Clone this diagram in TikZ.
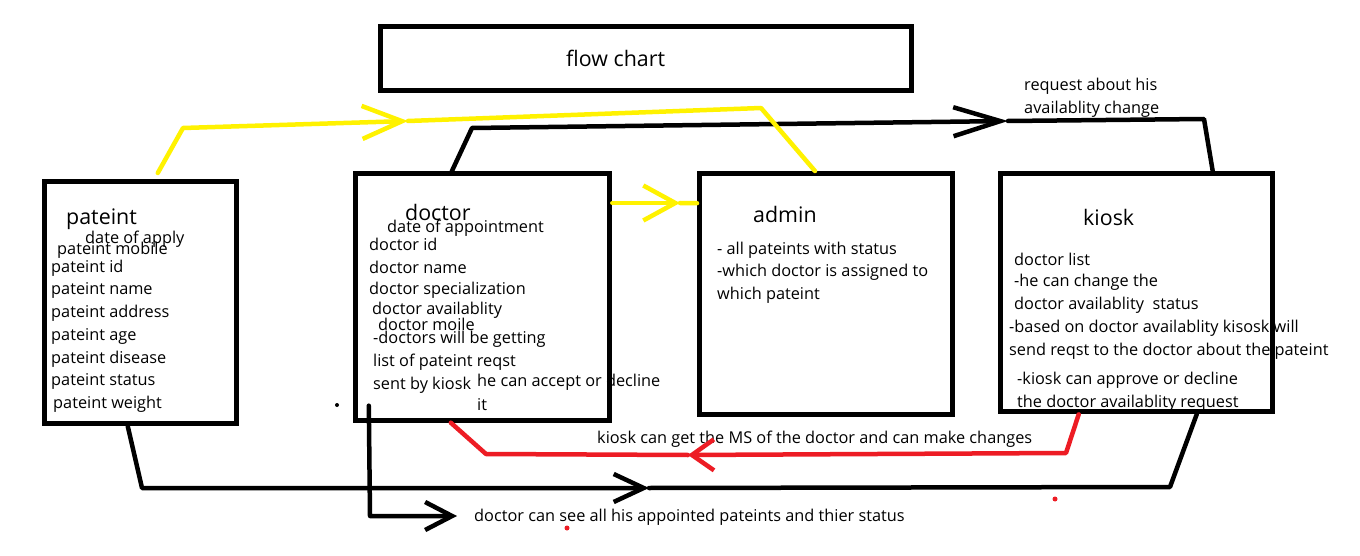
\documentclass[tikz,border=0pt]{standalone}
\usepackage{fontspec}
\setmainfont{Open Sans}
\usetikzlibrary{arrows.meta}
\definecolor{paintyellow}{RGB}{255,242,0}
\definecolor{paintred}{RGB}{237,28,36}

\begin{document}
\begin{tikzpicture}[x=1pt, y=-1pt,
  chartbox/.style={draw, line width=5pt, inner sep=0pt},
  lbl/.style={anchor=west, inner sep=0pt, font=\fontsize{16.3}{19}\selectfont},
  head/.style={anchor=west, inner sep=0pt, font=\fontsize{21.4}{25}\selectfont},
  flow/.style={line width=4.5pt, line cap=round, line join=round},
  yflow/.style={flow, paintyellow},
  bflow/.style={flow, black},
  rflow/.style={flow, paintred},
  vtip/.style 2 args={-{Straight Barb[length=#1pt, width=#2pt, line width=4.5pt]}}]
  \fill[white] (0,0) rectangle (1360,556);
  \useasboundingbox (0,0) rectangle (1360,556);

  % boxes
  \node[chartbox, minimum width=531pt, minimum height=64pt] (titlebox) at (646,58.8) {};
  \node[chartbox, minimum width=191.7pt, minimum height=242.5pt] (pateint) at (140.8,302.7) {};
  \node[chartbox, minimum width=254pt, minimum height=246.4pt] (doctor) at (482.8,297) {};
  \node[chartbox, minimum width=253pt, minimum height=241.3pt] (admin) at (826,294.2) {};
  \node[chartbox, minimum width=271.7pt, minimum height=238.3pt] (kiosk) at (1136.7,292.7) {};

  \node[head] (charttitle) at (566,58) {flow chart};

  % pateint texts
  \node[head] (pateinthead) at (66,219) {pateint};
  \node[lbl] (applydate) at (85,239) {date of apply};
  \node[lbl] (pmobile) at (57,250) {pateint mobile};
  \foreach \txt [count=\i] in {pateint id, pateint name, pateint address, pateint age, pateint disease, pateint status}
    \node[lbl] (pl\i) at (51,{268+22.7*(\i-1)}) {\txt};
  \node[lbl] (pweight) at (53,404) {pateint weight};

  % doctor texts
  \node[head] (doctorhead) at (405,212) {doctor};
  \node[lbl] (apptdate) at (387,228) {date of appointment};
  \node[lbl] (dl1) at (369,244) {doctor id};
  \node[lbl] (dl2) at (369,267) {doctor name};
  \node[lbl] (dl3) at (369,290) {doctor specialization};
  \node[lbl] (dl4) at (372,310) {doctor availablity};
  \node[lbl] (dl5) at (378,324) {doctor moile};
  \node[lbl] (dl6) at (373,339) {-doctors will be getting};
  \node[lbl] (dl7) at (373,362) {list of pateint reqst};
  \node[lbl] (dl8) at (373,385) {sent by kiosk};
  \node[lbl] (dl9) at (477,382) {he can accept or decline};
  \node[lbl] (dl10) at (477,405) {it};

  % admin texts
  \node[head] (adminhead) at (753,214) {admin};
  \node[lbl] (al1) at (717,250) {- all pateints with status};
  \node[lbl] (al2) at (717,272) {-which doctor is assigned to};
  \node[lbl] (al3) at (717,295) {which pateint};

  % kiosk texts
  \node[head] (kioskhead) at (1083,217) {kiosk};
  \node[lbl] (kl1) at (1014,259) {doctor list};
  \node[lbl] (kl2) at (1014,282) {-he can change the};
  \node[lbl] (kl3) at (1014,305) {doctor availablity\ \ status};
  \node[lbl] (kl4) at (1009,328) {-based on doctor availablity kisosk will};
  \node[lbl] (kl5) at (1009,351) {send reqst to the doctor about the pateint};
  \node[lbl] (kl6) at (1017,380) {-kiosk can approve or decline};
  \node[lbl] (kl7) at (1017,403) {the doctor availablity request};

  % connector labels
  \node[lbl] (reqlbl1) at (1024,86) {request about his};
  \node[lbl] (reqlbl2) at (1024,109) {availablity change};
  \node[lbl] (mslbl) at (597,439) {kiosk can get the MS of the doctor and can make changes};
  \node[lbl] (seelbl) at (474,517) {doctor can see all his appointed pateints and thier status};

  % black: doctor to kiosk
  \coordinate (b1) at (472,128);
  \coordinate (b2) at (1008,121);
  \coordinate (b3) at (1204,119);
  \draw[bflow, vtip={47}{29}] ([xshift=-31pt]doctor.north) -- (b1) -- (b2);
  \draw[bflow] (b2) -- (b3) -- ([xshift=76pt]kiosk.north);

  % yellow: pateint to admin
  \coordinate (y1) at (183,128);
  \coordinate (y2) at (408,121);
  \coordinate (y3) at (761,108);
  \draw[yflow, vtip={40}{33}] ([xshift=17pt,yshift=6pt]pateint.north) -- (y1) -- (y2);
  \draw[yflow] (y2) -- (y3) -- ([xshift=-11pt]admin.north);

  % yellow: doctor to admin
  \coordinate (y4) at (680,203);
  \draw[yflow, vtip={32}{35}] ([yshift=94pt]doctor.east) -- (y4);
  \draw[yflow] (y4) -- ([yshift=91pt]admin.west);

  % black: pateint to kiosk
  \coordinate (c1) at (142,488);
  \coordinate (c2) at (649,488);
  \coordinate (c3) at (1170,487);
  \draw[bflow, vtip={30}{28}] ([xshift=-13pt]pateint.south) -- (c1) -- (c2);
  \draw[bflow] (c2) -- (c3) -- ([xshift=60pt]kiosk.south);

  % black: doctor down to label
  \coordinate (d1) at (370,516);
  \coordinate (d2) at (457,516);
  \draw[bflow, vtip={27}{28}] ([xshift=-114pt,yshift=17pt]doctor.south) -- (d1) -- (d2);

  % red: kiosk to doctor
  \coordinate (r1) at (1066,453);
  \coordinate (r2) at (688,455);
  \coordinate (r3) at (486,454);
  \draw[rflow, vtip={22}{31}] ([xshift=-58pt]kiosk.south) -- (r1) -- (r2);
  \draw[rflow] (r2) -- (r3) -- ([xshift=-32pt]doctor.south);

  % stray dots
  \fill (337,405) circle (2pt);
  \fill[paintred] (1055,499) circle (2.5pt);
  \fill[paintred] (567,528) circle (2.5pt);
\end{tikzpicture}
\end{document}
